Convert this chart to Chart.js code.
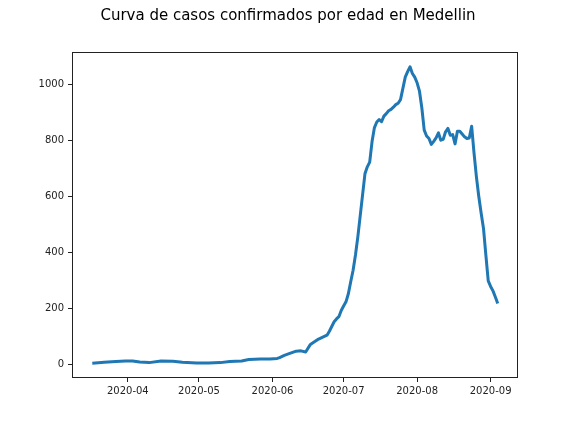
<!DOCTYPE html>
<html>
<head>
<meta charset="utf-8">
<script src="https://cdn.jsdelivr.net/npm/chart.js@4/dist/chart.umd.min.js"></script>
<style>
  html, body { margin: 0; padding: 0; background: #fff; }
  #chart { display: block; }
</style>
</head>
<body>
<canvas id="chart" width="576" height="432"></canvas>
<script>
// ---------- Data ----------
const dates = [
  "2020-03-17", "2020-03-22", "2020-03-27", "2020-03-31", "2020-04-03", "2020-04-06",
  "2020-04-10", "2020-04-15", "2020-04-20", "2020-04-24", "2020-04-30", "2020-05-05",
  "2020-05-10", "2020-05-14", "2020-05-19", "2020-05-22", "2020-05-27", "2020-05-31",
  "2020-06-03", "2020-06-04", "2020-06-06", "2020-06-08", "2020-06-11", "2020-06-13",
  "2020-06-15", "2020-06-17", "2020-06-19", "2020-06-20", "2020-06-22", "2020-06-24",
  "2020-06-25", "2020-06-26", "2020-06-27", "2020-06-28", "2020-06-29", "2020-06-30",
  "2020-07-01", "2020-07-02", "2020-07-03", "2020-07-04", "2020-07-05", "2020-07-06",
  "2020-07-07", "2020-07-08", "2020-07-09", "2020-07-10", "2020-07-11", "2020-07-12",
  "2020-07-13", "2020-07-14", "2020-07-15", "2020-07-16", "2020-07-17", "2020-07-18",
  "2020-07-19", "2020-07-20", "2020-07-21", "2020-07-22", "2020-07-23", "2020-07-24",
  "2020-07-25", "2020-07-26", "2020-07-27", "2020-07-28", "2020-07-29", "2020-07-30",
  "2020-07-31", "2020-08-01", "2020-08-02", "2020-08-03", "2020-08-04", "2020-08-05",
  "2020-08-06", "2020-08-07", "2020-08-08", "2020-08-09", "2020-08-10", "2020-08-11",
  "2020-08-12", "2020-08-13", "2020-08-14", "2020-08-15", "2020-08-16", "2020-08-17",
  "2020-08-18", "2020-08-19", "2020-08-20", "2020-08-21", "2020-08-22", "2020-08-23",
  "2020-08-24", "2020-08-25", "2020-08-26", "2020-08-27", "2020-08-28", "2020-08-29",
  "2020-08-30", "2020-08-31", "2020-09-01", "2020-09-02", "2020-09-03", "2020-09-04"
];
const casos = [
  4, 7, 10, 12, 12, 8,
  6, 12, 11, 7, 5, 5,
  6, 10, 12, 17, 19, 19,
  21, 24, 32, 38, 47, 48,
  44, 71, 82, 88, 96, 104,
  118, 135, 152, 162, 170, 192,
  208, 223, 252, 295, 336, 390,
  455, 530, 605, 680, 705, 722,
  795, 845, 865, 874, 866, 886,
  895, 905, 910, 918, 927, 932,
  945, 985, 1025, 1045, 1062, 1038,
  1025, 1005, 975, 915, 836, 815,
  806, 785, 796, 808, 826, 800,
  803, 830, 842, 818, 820, 787,
  832, 832, 822, 812, 806, 808,
  850, 755, 670, 600, 540, 485,
  390, 298, 278, 262, 240, 217
];
const monthTicks = ["2020-04-01", "2020-05-01", "2020-06-01", "2020-07-01", "2020-08-01", "2020-09-01"];
const monthLabels = ["2020-04", "2020-05", "2020-06", "2020-07", "2020-08", "2020-09"];
const yTicks = [0, 200, 400, 600, 800, 1000];
const title = "Curva de casos confirmados por edad en Medellin";

// ---------- Helpers ----------
const origin = Date.UTC(2020, 3, 1);
function dayNum(s) {
  const [y, m, d] = s.split("-").map(Number);
  return (Date.UTC(y, m - 1, d) - origin) / 86400000;
}

const xs = dates.map(dayNum);
const tickDays = monthTicks.map(dayNum);
const xSpan = xs[xs.length - 1] - xs[0];
const ySpan = Math.max(...casos) - Math.min(...casos);

const points = xs.map((x, i) => ({ x, y: casos[i] }));

// axes box on all four sides + centred figure title
const frame = {
  id: "frame",
  afterDatasetsDraw(chart) {
    const { ctx, chartArea: a } = chart;
    ctx.save();
    ctx.strokeStyle = "#222";
    ctx.lineWidth = 1;
    ctx.strokeRect(a.left + 0.5, a.top + 0.5, a.right - a.left - 1, a.bottom - a.top - 1);
    ctx.fillStyle = "#000";
    ctx.font = "15px 'DejaVu Sans', sans-serif";
    ctx.textAlign = "center";
    ctx.textBaseline = "middle";
    ctx.fillText(title, chart.width / 2, 16);
    ctx.restore();
  }
};

const tickFont = { family: "'DejaVu Sans', sans-serif", size: 10 };

new Chart(document.getElementById("chart"), {
  type: "line",
  data: {
    datasets: [{
      data: points,
      borderColor: "#1f77b4",
      borderWidth: 3,
      borderJoinStyle: "round",
      borderCapStyle: "butt",
      pointRadius: 0,
      tension: 0,
      fill: false
    }]
  },
  options: {
    responsive: false,
    animation: false,
    devicePixelRatio: 1,
    layout: { padding: { left: 0, right: 58, top: 52, bottom: 0 } },
    plugins: {
      legend: { display: false },
      tooltip: { enabled: false },
      title: { display: false }
    },
    scales: {
      x: {
        type: "linear",
        min: xs[0] - xSpan * 0.05,
        max: xs[xs.length - 1] + xSpan * 0.05,
        afterBuildTicks: s => { s.ticks = tickDays.map(v => ({ value: v })); },
        afterFit: s => { s.height = 54; },
        ticks: {
          autoSkip: false,
          maxRotation: 0,
          color: "#222",
          font: tickFont,
          padding: 3,
          callback: v => monthLabels[tickDays.indexOf(v)]
        },
        grid: { drawOnChartArea: false, drawTicks: true, tickLength: 4, color: "#222" },
        border: { display: false }
      },
      y: {
        min: Math.min(...casos) - ySpan * 0.05,
        max: Math.max(...casos) + ySpan * 0.05,
        afterBuildTicks: s => { s.ticks = yTicks.map(v => ({ value: v })); },
        afterFit: s => { s.width = 72; },
        ticks: { color: "#222", font: tickFont, padding: 4, callback: v => String(v) },
        grid: { drawOnChartArea: false, drawTicks: true, tickLength: 4, color: "#222" },
        border: { display: false }
      }
    }
  },
  plugins: [frame]
});
</script>
</body>
</html>
